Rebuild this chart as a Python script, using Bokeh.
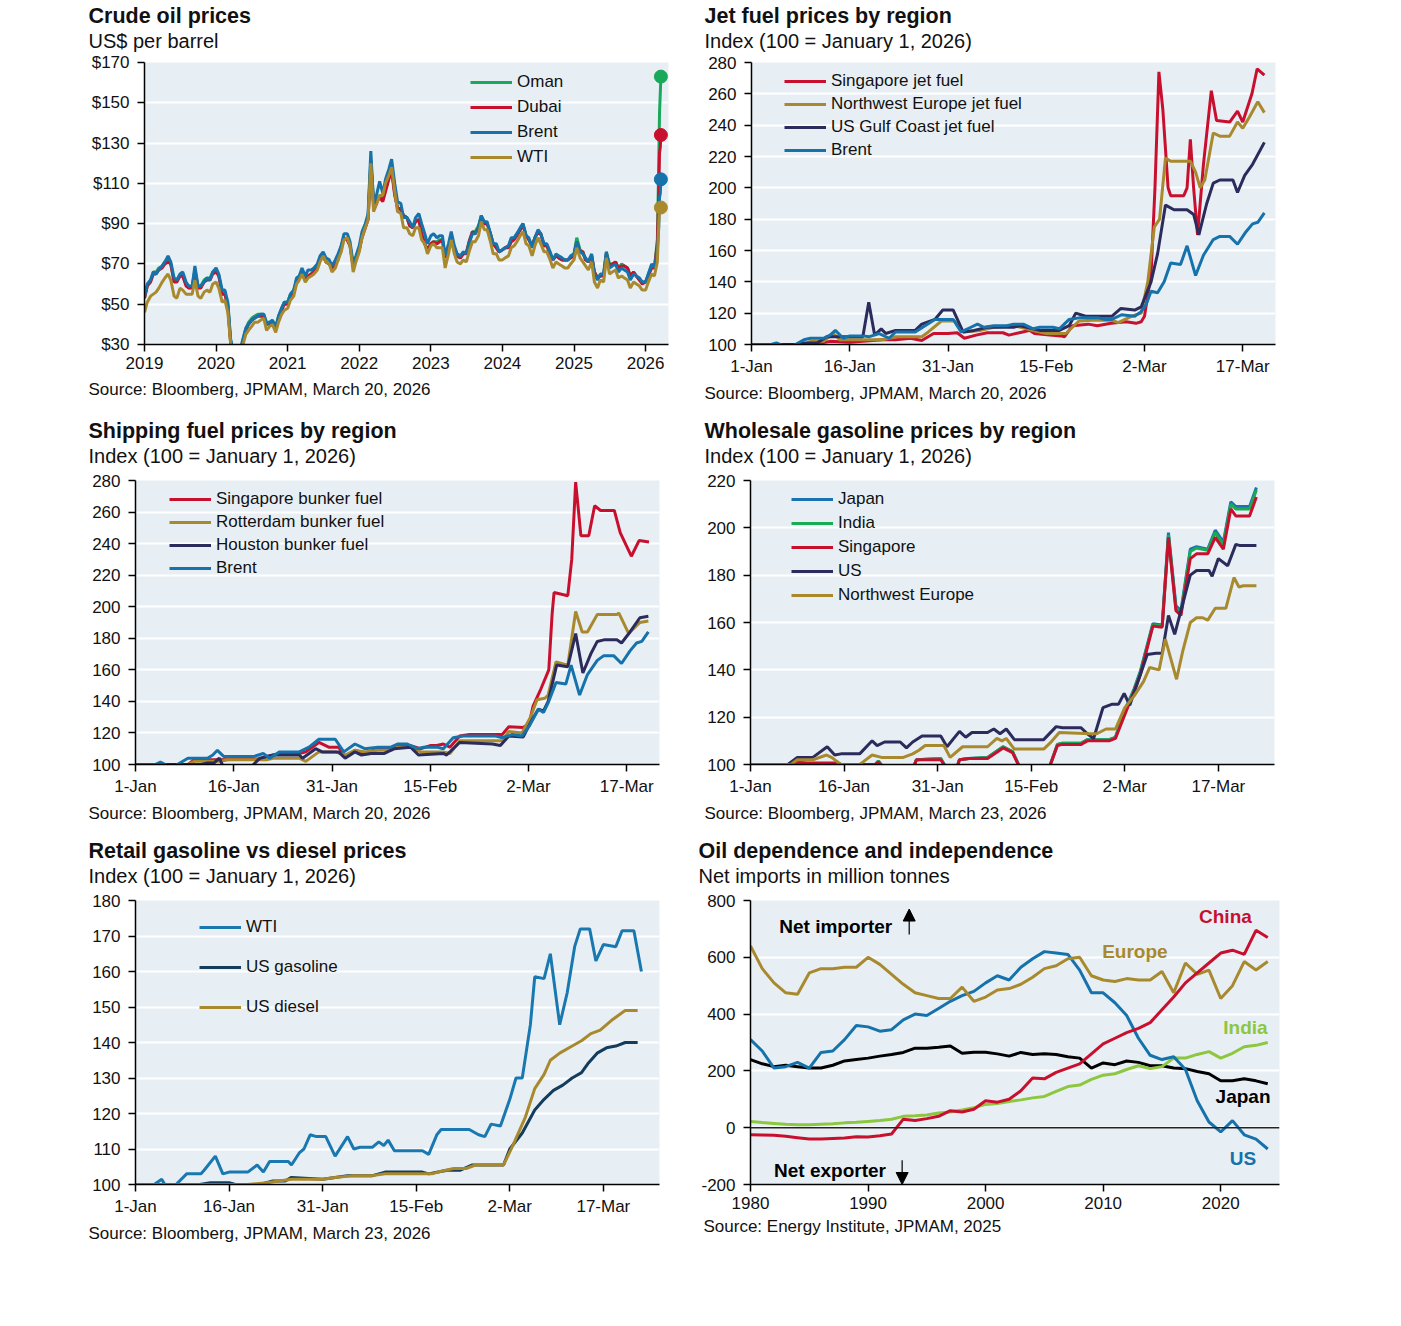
import pandas as pd
from bokeh.plotting import figure
from bokeh.models import (Range1d, FixedTicker, Label, Legend, LegendItem, Span, Arrow, NormalHead, Title)
from bokeh.layouts import column, row
from bokeh.embed import file_html
from bokeh.resources import INLINE

# ---------------- data ----------------
# Crude oil (US$/bbl), semi-monthly 2019-01-01 .. 2026-02-15, then March 2026 points
CRUDE_EXTRA_DATES = ["2026-03-02", "2026-03-09", "2026-03-13", "2026-03-17", "2026-03-20"]
BRENT = [54, 60, 62, 66, 65, 67, 69, 71, 74, 71, 63, 62, 65, 66, 61, 59, 59, 69, 59, 59, 61, 63, 62, 66,
         68, 65, 57, 57, 51, 33, 25, 27, 26, 32, 38, 40, 42, 43, 44, 45, 45, 40, 41, 42, 38, 44, 48, 51,
         51, 55, 57, 63, 64, 68, 64, 67, 67, 68, 70, 74, 76, 73, 72, 69, 72, 75, 79, 85, 85, 81, 70, 74,
         79, 86, 90, 95, 126, 100, 105, 111, 105, 112, 117, 122, 110, 101, 100, 93, 93, 91, 88, 93, 95, 90, 85, 80,
         84, 85, 83, 84, 84, 74, 80, 86, 79, 75, 74, 76, 75, 80, 85, 85, 88, 94, 91, 91, 85, 80, 80, 76,
         77, 78, 79, 83, 83, 85, 88, 90, 84, 83, 78, 83, 87, 85, 80, 80, 76, 72, 75, 74, 73, 72, 72, 74,
         75, 81, 76, 75, 73, 71, 75, 65, 62, 65, 65, 76, 68, 69, 70, 66, 68, 67, 66, 62, 65, 64, 63, 61,
         61, 65, 70, 68, 77, 88, 103, 105, 112]
WTI = [46, 51, 54, 55, 56, 58, 61, 63, 65, 62, 54, 53, 58, 57, 55, 55, 55, 62, 54, 53, 56, 57, 56, 60,
       61, 58, 51, 52, 46, 31, 20, 18, 19, 29, 35, 37, 39, 41, 41, 42, 43, 37, 39, 40, 36, 41, 45, 47,
       48, 52, 54, 60, 62, 65, 61, 63, 64, 65, 67, 71, 74, 71, 70, 66, 68, 72, 76, 82, 83, 79, 66, 71,
       76, 83, 88, 92, 120, 96, 100, 104, 104, 110, 114, 118, 106, 96, 95, 88, 88, 85, 84, 88, 88, 82, 80, 75,
       79, 80, 78, 78, 78, 68, 75, 82, 75, 71, 70, 72, 71, 76, 81, 81, 84, 91, 87, 87, 81, 75, 75, 72,
       72, 73, 74, 78, 79, 81, 84, 86, 80, 79, 74, 79, 83, 80, 76, 76, 72, 68, 71, 70, 69, 68, 68, 70,
       72, 78, 73, 71, 69, 67, 71, 61, 58, 62, 61, 73, 65, 66, 67, 63, 64, 63, 62, 58, 61, 60, 59, 57,
       57, 61, 65, 64, 71, 90, 98, 97, 98]
DUBAI = [53, 59, 61, 65, 65, 67, 68, 70, 71, 70, 61, 61, 64, 64, 59, 58, 58, 66, 58, 58, 61, 62, 62, 65,
         66, 64, 55, 55, 49, 31, 23, 22, 21, 30, 37, 40, 42, 43, 44, 44, 44, 40, 40, 41, 38, 43, 47, 50,
         50, 54, 56, 61, 63, 66, 62, 64, 65, 66, 69, 72, 74, 71, 70, 68, 70, 72, 78, 83, 82, 79, 69, 72,
         77, 83, 88, 92, 120, 100, 101, 103, 101, 106, 112, 116, 104, 98, 97, 94, 93, 89, 88, 91, 92, 85, 80, 77,
         80, 81, 80, 81, 82, 73, 78, 84, 77, 74, 73, 75, 75, 81, 86, 85, 88, 93, 90, 90, 85, 80, 78, 76,
         77, 78, 78, 81, 82, 84, 87, 89, 84, 82, 79, 83, 86, 85, 79, 79, 75, 72, 74, 73, 72, 72, 72, 73,
         74, 81, 76, 76, 72, 71, 74, 66, 63, 64, 64, 75, 69, 70, 71, 68, 69, 69, 68, 64, 66, 64, 62, 60,
         61, 64, 68, 68, 80, 105, 125, 128, 134]
OMAN = [53, 59, 62, 66, 66, 68, 69, 71, 72, 70, 61, 62, 64, 64, 60, 58, 59, 67, 59, 59, 62, 63, 63, 66,
        67, 64, 56, 55, 50, 32, 24, 22, 22, 31, 38, 41, 43, 44, 45, 45, 45, 41, 41, 42, 39, 44, 48, 51,
        51, 55, 57, 62, 64, 66, 62, 64, 65, 67, 69, 72, 74, 71, 70, 68, 70, 73, 79, 83, 82, 79, 69, 72,
        77, 84, 89, 93, 122, 101, 102, 104, 102, 107, 113, 117, 105, 98, 97, 94, 93, 89, 88, 91, 92, 85, 80, 77,
        80, 81, 81, 82, 82, 73, 78, 84, 77, 74, 73, 75, 76, 81, 86, 86, 89, 94, 90, 90, 85, 80, 78, 76,
        77, 78, 79, 82, 83, 85, 87, 90, 84, 82, 79, 83, 86, 85, 79, 79, 75, 72, 74, 73, 72, 72, 72, 73,
        75, 83, 77, 76, 72, 71, 74, 66, 63, 64, 65, 76, 70, 70, 71, 68, 70, 69, 68, 64, 66, 64, 62, 61,
        61, 65, 69, 68, 82, 120, 145, 155, 163]
CRUDE_YTICKS = [30, 50, 70, 90, 110, 130, 150, 170]
CRUDE_YLABELS = ["$30", "$50", "$70", "$90", "$110", "$130", "$150", "$170"]
YEAR_TICKS = [2019, 2020, 2021, 2022, 2023, 2024, 2025, 2026]

# Day-of-year (0 = 1 Jan 2026) axes
DAY_TICKS = [0, 15, 30, 45, 60, 75]
DAY_LABELS = ["1-Jan", "16-Jan", "31-Jan", "15-Feb", "2-Mar", "17-Mar"]

# Jet fuel index
JET_SG_D = [0, 8, 10, 12, 15, 20, 22, 24.3, 26, 27.8, 30, 31.4, 32.5, 34.3, 36, 38.4, 39.3, 41.4, 42.5, 43.2,
            45.5, 47.2, 47.8, 49, 51.4, 52.8, 54.9, 57.2, 58.7, 59.5, 60, 61, 61.6, 62.2, 62.8, 63.6, 64, 66,
            66.5, 67, 67.5, 68.1, 69, 70.2, 71, 73, 74.2, 75, 76.4, 77.2, 78.3]
JET_SG = [100, 100, 100.5, 102, 101.5, 103, 103, 104, 102.5, 107, 107, 107.5, 104, 106, 107.5, 107.5, 106, 108,
          109, 107, 106, 105.5, 105, 112, 113, 112, 113.5, 114.5, 113.5, 114.5, 118, 145, 200, 274, 250, 200,
          195, 195, 200, 231, 200, 170, 215, 262, 243, 242, 249, 242, 260, 276, 272]
JET_NWE_D = [0, 8, 9, 11, 12.5, 13.5, 15, 20, 22, 26, 27, 29, 31, 32.3, 35, 37, 40, 42, 44, 45, 48, 50, 52, 55,
             56, 58, 59.5, 60.5, 61.5, 62.3, 63.2, 64, 67, 67.8, 68.5, 69.2, 70.5, 71.5, 73, 74.2, 75, 76, 77.3, 78.3]
JET_NWE = [100, 100, 102, 102, 107, 103, 103, 103, 105, 105, 108, 115, 115, 108, 109, 111, 112, 110, 108, 107,
           107, 115, 115.5, 115.5, 114, 118, 120, 140, 175, 180, 219, 217, 217, 210, 200, 205, 235, 233, 233,
           242, 238, 245, 255, 248]
JET_USGC_D = [0, 7, 8, 10, 11.5, 13, 17, 17.9, 18.8, 19.8, 20.5, 22, 25, 26, 28, 29.2, 30.8, 32.3, 34, 36, 40,
              41, 42, 44, 47, 48.5, 49.5, 51, 55, 56.4, 58.5, 59.5, 61, 62, 63.2, 64.5, 66.5, 67.5, 68.3, 69.5,
              70.5, 71.5, 73.5, 74.2, 75.3, 76.5, 78.3]
JET_USGC = [100, 100, 101, 101, 105, 105, 105, 127, 106, 110, 107, 109, 109, 113, 116, 122, 122, 108, 109, 111,
            111, 112, 111, 109, 109, 112, 120, 118, 118, 123, 122, 124, 140, 158, 189, 186, 186, 183, 170, 190,
            203, 205, 205, 197, 208, 215, 229]
JET_BRENT_D = [0, 3, 3.8, 5, 6.5, 8, 9, 11, 12, 12.8, 14, 15, 17, 18, 19.5, 21, 22, 25, 26.5, 28, 30.8, 32,
               33.5, 34.5, 35.5, 37, 39, 40, 41.5, 43, 44, 46, 47, 48.5, 50, 53, 54, 55, 56.5, 58.5, 59.5, 60.3,
               61, 62, 63, 64, 65.5, 66.5, 67.8, 69, 70.5, 71.5, 73, 74.2, 75.5, 76.5, 77.3, 78.3]
JET_BRENT = [100, 100, 101, 99, 99.5, 103, 104, 104, 106, 109, 104, 105.5, 105.5, 105, 107, 104, 108, 108, 112,
             116, 116, 108, 111, 113, 111, 112, 112, 113, 113, 110, 111, 111, 110, 116, 117, 117, 116, 116, 119,
             118, 121, 126, 134, 133, 140, 152, 151, 163, 144, 157, 167, 169, 169, 164, 172, 177, 178, 184]

# Shipping fuel index
SHIP_SG_D = [0, 8, 9, 13, 19, 20, 22, 25, 26, 28, 29.5, 31, 32, 33.5, 35, 37, 39, 40, 42, 43.5, 45, 46, 47, 48,
             49.5, 51, 56, 57, 59.2, 60.1, 60.7, 61.9, 63.1, 63.6, 63.9, 66, 66.6, 67.2, 68, 69.2, 70.1, 71, 73.1,
             74, 75.7, 76.9, 78.4]
SHIP_SG = [100, 100, 103, 103, 103.5, 105, 107, 107, 108, 114, 111, 111, 105, 109, 107, 110, 110, 112, 112, 110,
           112, 112, 113, 111, 118, 119, 119, 124, 123.5, 126, 137, 148, 160, 195, 209, 207, 230, 279, 245, 245,
           264, 261, 261, 247, 232, 242, 241]
SHIP_ROT_D = [0, 8, 9, 13, 14, 20, 21, 25, 26, 28, 30.5, 32, 33.5, 35, 37, 39, 40, 42, 43.5, 47, 48, 49.5, 54,
              56, 57, 59, 60.3, 61.3, 62.5, 63, 64.2, 66, 67.2, 68.2, 69, 70.5, 73.5, 73.8, 75.3, 77, 78.3]
SHIP_ROT = [100, 100, 102, 102, 103, 103, 104, 104, 102, 108, 108, 106, 109, 108, 109, 109, 111, 111, 108, 108,
            107, 115, 115, 115, 121, 120, 130, 141, 142, 144, 165, 163, 197, 184, 184, 195, 195, 196, 183, 190, 191]
SHIP_HOU_D = [0, 10, 11, 12, 12.8, 13.8, 17.2, 18, 19, 21, 25, 25.5, 27.5, 28.5, 31, 32, 33.5, 34.5, 36, 38,
              39.5, 42, 43.2, 47, 47.5, 49.5, 54.5, 55.7, 57, 59.2, 60.5, 61.5, 62.3, 63, 64.3, 66, 67.2, 68.3,
              69.5, 70.5, 71.5, 73.5, 74.2, 75.5, 77, 78.3]
SHIP_HOU = [100, 100, 101, 101, 104, 95, 95, 100, 104, 106, 106, 104, 110, 108, 108, 104, 108, 106, 107, 107,
            110, 111, 106, 107, 106, 114, 113, 112, 118, 117.5, 128, 135, 134, 140, 163, 162, 183, 158, 170, 178,
            179, 179, 177, 184, 193, 194]
SHIP_BRENT_D = [0, 3, 3.8, 5, 6, 8, 11, 11.8, 12.5, 13.5, 18, 19.5, 20.5, 22, 25, 26.5, 28, 30.5, 31.8, 33.5,
                35, 37, 39, 40, 41.5, 43, 44, 46, 47, 48.5, 50, 53, 55, 56, 57.5, 59, 60.2, 61.5, 62.3, 63, 64.2,
                65.7, 66.5, 67.8, 69, 70.5, 71.5, 73, 74.2, 75.5, 76.5, 77.3, 78.3]
SHIP_BRENT = [100, 100, 101.5, 99, 99, 104, 104, 106, 109, 105, 105, 107, 104, 108, 108, 111, 116, 116, 108,
              113, 110, 111, 111, 113, 113, 110, 111, 111, 110, 117, 118, 118, 118, 117, 119, 118, 125, 135, 133,
              139, 152, 151, 163, 144, 157, 166, 169, 169, 164, 172, 177, 178, 184]

# Wholesale gasoline index
GAS_ASIA_D = [0, 6, 7.5, 9, 14, 14.5, 20, 20.5, 21.5, 26, 26.6, 30.5, 31.5, 33, 33.5, 35, 38, 40.5, 42, 43.3,
              47.8, 49.2, 50, 53, 54, 57.5, 58.5, 60, 61.5, 62.5, 64.5, 66, 67, 68.2, 69, 70.5, 71.5, 73.3, 74.5,
              75.8, 77, 77.8, 80, 81.1]
GAS_JP = [100, 100, 101, 100.5, 100.5, 100, 100, 101.5, 98, 98, 102, 102.5, 98, 98, 102, 102.5, 103, 107.5,
          105.5, 98, 98, 108.5, 109, 109, 110.5, 110.5, 111.5, 123, 132, 139.5, 159.5, 159, 198, 167, 165, 191,
          192, 191, 199, 194, 211, 209, 209, 217]
GAS_IN = [100, 100, 101, 100.5, 100.5, 100, 100, 101.5, 98, 98, 102, 102.5, 98, 98, 102, 102.5, 103, 107.5,
          105.5, 98, 98, 108.5, 109, 109, 110.5, 110.5, 111.5, 122.5, 131.5, 139, 159, 158.5, 197, 166, 164, 190,
          191.5, 190.5, 198, 193, 210, 208, 208, 216]
GAS_SG = [100, 100, 101, 100.5, 100.5, 100, 100, 101, 98, 98, 102, 102, 98, 98, 102, 102.5, 102.5, 107, 105, 98,
          98, 108, 108.5, 108.5, 110, 110, 111, 121, 131, 138, 158.5, 158, 196, 165, 163, 187, 189, 189, 196, 191,
          208, 205, 205, 213]
GAS_US_D = [0, 6, 7.5, 10, 12.3, 13.5, 14.5, 17.5, 19.5, 20.3, 21.5, 24, 25, 26, 27.5, 30.5, 31.5, 33.5, 34.5,
            35.5, 38, 39, 40, 41, 42.3, 47, 49, 50, 53, 54, 55, 56.5, 58, 59, 59.9, 60.8, 62.5, 63.6, 65, 66, 67,
            68, 69, 70.5, 71.5, 73.5, 74, 75, 76.5, 77.8, 78.5, 81.1]
GAS_US = [100, 100, 103, 103, 107.5, 104, 104.5, 104.5, 110, 108, 109.5, 109.5, 107, 109.5, 112, 112, 107.5, 114,
          111.5, 113.5, 113.5, 115, 113, 115, 110.5, 110.5, 116, 115.5, 115.5, 113, 111, 124, 125.5, 125.5, 130,
          125, 138, 146.5, 147, 147, 163, 155, 165, 180, 182, 182, 179.5, 187, 184, 193, 192.5, 192.5]
GAS_NWE_D = [0, 6.5, 7.5, 10, 12.2, 13, 14.5, 17.5, 18, 19.5, 21, 24.5, 26, 27, 28, 31, 32, 34, 38, 39.5, 40.3,
             41, 42.3, 47, 48, 49.5, 54.5, 55.5, 57, 58.5, 60, 61.5, 63, 64, 65.5, 66.5, 68.3, 69.3, 70.5, 71.5,
             72.5, 73.3, 74.5, 76.2, 77.5, 78.3, 79, 81.1]
GAS_NWE = [100, 100, 102, 102, 104, 103, 100, 100, 101, 104, 103, 103, 104.5, 106, 108, 108, 103, 107.5, 107.5,
           111, 110, 111, 106.5, 106.5, 109, 113.5, 113, 113, 115, 115, 124, 129, 135, 141, 140, 153, 136, 148,
           160, 162, 162, 161, 166, 166, 179, 175, 175.5, 175.5]

# Retail gasoline vs diesel index
RET_WTI_D = [0, 3, 4.2, 4.7, 6.5, 8.2, 10.5, 11, 12.8, 14, 15, 18, 19.5, 20.5, 21.5, 24.5, 25, 26.3, 27, 28, 29,
             30.5, 32, 34, 35, 36, 38, 39, 39.8, 40.5, 41.5, 46, 47, 48.3, 49, 53.5, 55, 56, 57, 58.5, 60, 61, 62,
             63.3, 64, 65.5, 66.5, 68, 69.2, 70.4, 71.3, 72.8, 73.8, 75, 77, 78, 79.9, 81.1]
RET_WTI = [100, 100, 101.5, 100, 100, 103, 103, 104, 108, 103, 103.5, 103.5, 105.5, 103.5, 106.5, 106.5, 105.5,
           109, 110, 114, 113.5, 113.5, 108, 113.5, 110, 110.5, 110.5, 112, 111, 112.5, 109.5, 109.5, 108.5, 114,
           115.5, 115.5, 114, 113.5, 117, 116.5, 124, 130, 130, 145, 158.5, 158, 165, 145, 154, 167, 172, 172,
           163, 167.6, 167, 171.5, 171.5, 160]
RET_GAS_D = [0, 3, 4, 9.5, 10.3, 12, 15, 16, 20, 22, 24, 25, 30, 32, 34, 38, 40, 42, 46, 47, 48.5, 50, 52, 54,
             59, 60, 62, 64, 65.5, 67, 68.5, 70, 71.5, 72.5, 74, 75.5, 77, 78.5, 80.5]
RET_GAS = [100, 100, 99.5, 99.5, 100, 100.5, 100.5, 100, 100, 101, 101, 102, 101.5, 102, 102.5, 102.5, 103.5,
           103.5, 103.5, 103, 103.5, 104, 104, 105.5, 105.5, 110, 114.5, 121, 124, 126.5, 128, 130, 131.5, 134,
           137, 138.5, 139, 140, 140]
RET_DSL_D = [0, 18, 21, 25, 30, 32, 35, 38, 40, 46, 47.5, 48.5, 51, 53, 54.5, 59, 60.5, 62.5, 64, 65.5, 66.5,
             68, 70, 71.5, 73, 74.5, 76.5, 78.5, 80.5]
RET_DSL = [100, 100, 100.5, 101.5, 101.5, 102, 102.5, 102.5, 103, 103, 103, 103.5, 104.5, 104.5, 105.5, 105.5,
           111, 119, 127, 131, 135, 137, 139, 140.5, 142.5, 143.5, 146.5, 149, 149]

# Oil dependence: net imports, million tonnes, 1980-2024
DEP_YEARS = list(range(1980, 2025))
CHINA = [-25, -26, -27, -30, -35, -40, -40, -38, -36, -32, -33, -28, -22, 30, 25, 32, 40, 60, 55, 65, 95, 90, 100,
         130, 175, 172, 195, 210, 225, 260, 295, 315, 335, 350, 370, 415, 460, 510, 545, 580, 615, 625, 610, 695, 670]
EUROPE = [640, 560, 510, 475, 470, 545, 560, 560, 565, 565, 600, 575, 540, 505, 475, 465, 455, 455, 495, 445,
          460, 485, 490, 505, 530, 560, 570, 595, 600, 535, 520, 515, 525, 520, 520, 550, 475, 580, 540, 555,
          455, 500, 585, 555, 585]
USA = [310, 270, 210, 215, 230, 210, 265, 270, 310, 360, 355, 340, 345, 380, 400, 395, 420, 445, 465, 480, 510,
       535, 520, 565, 595, 620, 615, 610, 555, 475, 475, 440, 395, 315, 255, 240, 250, 205, 95, 20, -15, 25,
       -25, -40, -75]
JAPAN = [240, 225, 215, 220, 215, 210, 210, 220, 235, 240, 245, 252, 258, 265, 280, 280, 283, 288, 262, 266, 266,
         260, 252, 265, 258, 260, 258, 250, 245, 210, 228, 222, 235, 230, 218, 218, 210, 208, 198, 190, 165, 165,
         172, 165, 155]
INDIA = [22, 18, 15, 12, 10, 10, 12, 14, 17, 19, 22, 25, 30, 40, 42, 45, 52, 55, 62, 70, 82, 85, 92, 98, 105,
         110, 128, 145, 150, 170, 185, 190, 205, 218, 208, 215, 245, 245, 258, 268, 245, 262, 285, 290, 300]
DEP_XTICKS = [1980, 1990, 2000, 2010, 2020]
DEP_YTICKS = [-200, 0, 200, 400, 600, 800]
DEP_YLABELS = ["-200", "0", "200", "400", "600", "800"]

# ---------------- style ----------------
FONT = "Liberation Sans"
BG = "#e7eff5"
TXT = "#111111"
RED = "#c8102e"
GOLD = "#a8892d"
BLUE = "#1572ab"
NAVY = "#2b2b5c"
GREEN = "#1aa85a"
LGREEN = "#8dc63f"
DARK = "#143c5c"


def dec_year(ts):
    days = 366 if ts.is_leap_year else 365
    return ts.year + (ts.dayofyear - 1) / days


crude_dates = pd.date_range("2019-01-01", "2026-02-15", freq="SMS").append(pd.to_datetime(CRUDE_EXTRA_DATES))
CRUDE_X = [dec_year(d) for d in crude_dates]


def base_fig(left, fw, right, top, fh, bottom, xr, yr):
    p = figure(width=left + fw + right, height=top + fh + bottom, title=None,
               x_range=Range1d(*xr), y_range=Range1d(*yr),
               output_backend="svg", toolbar_location=None,
               min_border_left=left, min_border_right=right,
               min_border_top=top, min_border_bottom=bottom,
               background_fill_color=BG, border_fill_color="white", outline_line_color=None)
    p.xgrid.grid_line_color = None
    p.ygrid.grid_line_color = "white"
    p.ygrid.grid_line_width = 2
    for ax in (p.xaxis, p.yaxis):
        ax.axis_line_color = "black"
        ax.axis_line_width = 1.5
        ax.major_tick_line_color = "black"
        ax.major_tick_line_width = 1.5
        ax.major_tick_out = 7
        ax.major_tick_in = 0
        ax.minor_tick_line_color = None
        ax.major_label_text_font = FONT
        ax.major_label_text_font_size = "17px"
        ax.major_label_text_color = TXT
    p.xaxis.major_label_standoff = 5
    p.yaxis.major_label_standoff = 8
    return p


def headers(p, title, subtitle, source, off, src_off, gap_font, src_so=10):
    # small blank spacer between the frame and the subtitle
    p.add_layout(Title(text="\u00a0", align="left", standoff=0, text_font=FONT,
                       text_font_size=f"{gap_font}px", text_color="white"), "above")
    p.add_layout(Title(text=subtitle, align="left", offset=off, standoff=0, text_font=FONT,
                       text_font_size="20px", text_font_style="normal", text_color=TXT), "above")
    p.add_layout(Title(text=title, align="left", offset=off, standoff=0, text_font=FONT,
                       text_font_size="21.5px", text_font_style="bold", text_color=TXT), "above")
    p.add_layout(Title(text=source, align="left", offset=src_off, standoff=src_so, vertical_align="top",
                       text_font=FONT, text_font_size="17px", text_font_style="normal", text_color=TXT), "below")


def dlabel(p, s, x, y, color, align="center"):
    p.add_layout(Label(x=x, y=y, text=s, text_font=FONT, text_font_size="19px", text_font_style="bold",
                       text_color=color, text_baseline="middle", text_align=align))


def legend(p, items, x, y, h, s):
    leg = Legend(items=[LegendItem(label=l, renderers=[r]) for l, r in items], location=(x, y),
                 orientation="vertical", padding=0, margin=0, spacing=s,
                 glyph_width=42, glyph_height=h, label_height=h, label_standoff=5,
                 label_text_font=FONT, label_text_font_size="17px", label_text_color=TXT,
                 background_fill_alpha=0, border_line_color=None)
    p.add_layout(leg, "center")


def day_axis(p):
    p.xaxis.ticker = FixedTicker(ticks=DAY_TICKS)
    p.xaxis.major_label_overrides = {t: l for t, l in zip(DAY_TICKS, DAY_LABELS)}


def num_yaxis(p, ticks):
    p.yaxis.ticker = FixedTicker(ticks=ticks)
    p.yaxis.major_label_overrides = {t: str(t) for t in ticks}


LW = 3

# ---------------- 1. Crude oil ----------------
p1 = base_fig(144, 524, 22, 62, 282, 70, (2019, 2026.32), (30, 170))
p1.xaxis.ticker = FixedTicker(ticks=YEAR_TICKS)
p1.xaxis.major_label_overrides = {t: str(t) for t in YEAR_TICKS}
p1.yaxis.ticker = FixedTicker(ticks=CRUDE_YTICKS)
p1.yaxis.major_label_overrides = {t: l for t, l in zip(CRUDE_YTICKS, CRUDE_YLABELS)}
crude = [("Oman", OMAN, GREEN), ("Dubai", DUBAI, RED), ("Brent", BRENT, BLUE), ("WTI", WTI, GOLD)]
rs = []
for name, ys, col in crude:
    rs.append((name, p1.line(CRUDE_X, ys, line_color=col, line_width=3)))
for name, ys, col in crude:
    p1.scatter([CRUDE_X[-1]], [ys[-1]], size=13, fill_color=col, line_color=col)
legend(p1, rs, 326, 176, 22, 3)
headers(p1, "Crude oil prices", "US$ per barrel", "Source: Bloomberg, JPMAM, March 20, 2026", -56, -56, 8,
        src_so=16)

# ---------------- 2. Jet fuel ----------------
p2 = base_fig(61, 524, 15, 62, 282, 70, (0, 80), (100, 280))
day_axis(p2)
num_yaxis(p2, [100, 120, 140, 160, 180, 200, 220, 240, 260, 280])
jet = [("Singapore jet fuel", JET_SG_D, JET_SG, RED), ("Northwest Europe jet fuel", JET_NWE_D, JET_NWE, GOLD),
       ("US Gulf Coast jet fuel", JET_USGC_D, JET_USGC, NAVY), ("Brent", JET_BRENT_D, JET_BRENT, BLUE)]
rs = [(n, p2.line(xs, ys, line_color=c, line_width=LW)) for n, xs, ys, c in jet]
legend(p2, rs, 33, 184, 20, 3)
headers(p2, "Jet fuel prices by region", "Index (100 = January 1, 2026)",
        "Source: Bloomberg, JPMAM, March 20, 2026", -47, -47, 8)

# ---------------- 3. Shipping fuel ----------------
p3 = base_fig(135, 524, 31, 66, 284, 70, (0, 80), (100, 280))
day_axis(p3)
num_yaxis(p3, [100, 120, 140, 160, 180, 200, 220, 240, 260, 280])
ship = [("Singapore bunker fuel", SHIP_SG_D, SHIP_SG, RED), ("Rotterdam bunker fuel", SHIP_ROT_D, SHIP_ROT, GOLD),
        ("Houston bunker fuel", SHIP_HOU_D, SHIP_HOU, NAVY), ("Brent", SHIP_BRENT_D, SHIP_BRENT, BLUE)]
rs = [(n, p3.line(xs, ys, line_color=c, line_width=LW)) for n, xs, ys, c in ship]
legend(p3, rs, 34, 186, 20, 3)
headers(p3, "Shipping fuel prices by region", "Index (100 = January 1, 2026)",
        "Source: Bloomberg, JPMAM, March 20, 2026", -47, -47, 11)

# ---------------- 4. Wholesale gasoline ----------------
p4 = base_fig(60, 524, 16, 66, 284, 70, (0, 84), (100, 220))
day_axis(p4)
num_yaxis(p4, [100, 120, 140, 160, 180, 200, 220])
gas = [("Japan", GAS_ASIA_D, GAS_JP, "#1a72b0"), ("India", GAS_ASIA_D, GAS_IN, "#1aab55"),
       ("Singapore", GAS_ASIA_D, GAS_SG, RED), ("US", GAS_US_D, GAS_US, NAVY),
       ("Northwest Europe", GAS_NWE_D, GAS_NWE, GOLD)]
rs = [(n, p4.line(xs, ys, line_color=c, line_width=LW)) for n, xs, ys, c in gas]
legend(p4, rs, 41, 159, 20, 4)
headers(p4, "Wholesale gasoline prices by region", "Index (100 = January 1, 2026)",
        "Source: Bloomberg, JPMAM, March 23, 2026", -46, -46, 11)

# ---------------- 5. Retail ----------------
p5 = base_fig(135, 524, 31, 66, 284, 80, (0, 84), (100, 180))
day_axis(p5)
num_yaxis(p5, [100, 110, 120, 130, 140, 150, 160, 170, 180])
ret = [("WTI", RET_WTI_D, RET_WTI, "#1a78b0"), ("US gasoline", RET_GAS_D, RET_GAS, DARK),
       ("US diesel", RET_DSL_D, RET_DSL, GOLD)]
rs = [(n, p5.line(xs, ys, line_color=c, line_width=LW)) for n, xs, ys, c in ret]
legend(p5, rs, 64, 167, 20, 20)
headers(p5, "Retail gasoline vs diesel prices", "Index (100 = January 1, 2026)",
        "Source: Bloomberg, JPMAM, March 23, 2026", -47, -47, 11)

# ---------------- 6. Oil dependence ----------------
p6 = base_fig(60, 529, 11, 66, 287, 77, (1980, 2025), (-200, 800))
p6.xaxis.ticker = FixedTicker(ticks=DEP_XTICKS)
p6.xaxis.major_label_overrides = {t: str(t) for t in DEP_XTICKS}
p6.yaxis.ticker = FixedTicker(ticks=DEP_YTICKS)
p6.yaxis.major_label_overrides = {t: l for t, l in zip(DEP_YTICKS, DEP_YLABELS)}
p6.add_layout(Span(location=0, dimension="width", line_color="#222222", line_width=1.5))
for ys, c in [(JAPAN, "black"), (INDIA, LGREEN), (USA, BLUE), (EUROPE, GOLD), (CHINA, RED)]:
    p6.line(DEP_YEARS, ys, line_color=c, line_width=LW)
for s, x, y, c in [("China", 2020.4, 743, RED), ("Europe", 2012.7, 621, GOLD), ("India", 2022.1, 352, LGREEN),
                   ("Japan", 2021.9, 109, "black"), ("US", 2021.9, -108, BLUE)]:
    dlabel(p6, s, x, y, c)
dlabel(p6, "Net importer", 1982.45, 707, "black", align="left")
dlabel(p6, "Net exporter", 1982.0, -149, "black", align="left")
p6.add_layout(Arrow(end=NormalHead(size=12, fill_color="black", line_color="black"),
                    x_start=1993.5, y_start=680, x_end=1993.5, y_end=770, line_width=1.2, line_color="black"))
p6.add_layout(Arrow(end=NormalHead(size=12, fill_color="black", line_color="black"),
                    x_start=1992.9, y_start=-115, x_end=1992.9, y_end=-200, line_width=1.2, line_color="black"))
headers(p6, "Oil dependence and independence", "Net imports in million tonnes",
        "Source: Energy Institute, JPMAM, 2025", -52, -47, 11)

layout = column(row(p1, p2), row(p3, p4), row(p5, p6))
open("out.html", "w").write(file_html(layout, INLINE))
